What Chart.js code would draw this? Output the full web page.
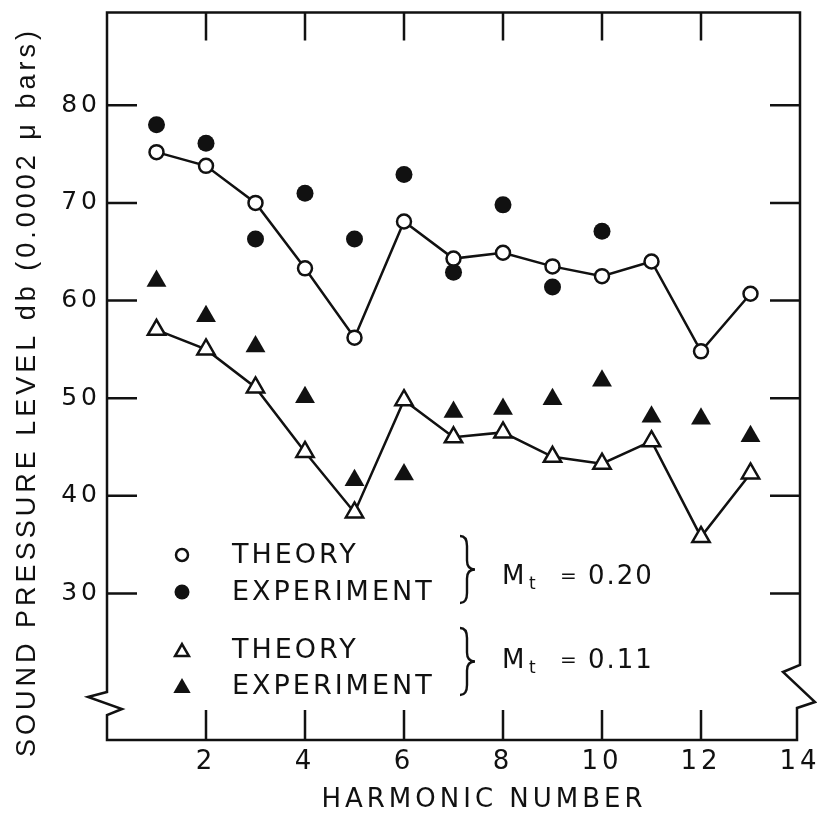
<!DOCTYPE html>
<html>
<head>
<meta charset="utf-8">
<script src="https://cdn.jsdelivr.net/npm/chart.js@4.4.1/dist/chart.umd.min.js"></script>
<style>
  html, body { margin: 0; padding: 0; background: #ffffff; }
  #c { display: block; }
</style>
</head>
<body>
<canvas id="c" width="817" height="821"></canvas>
<script>
// ---- data ----
const harmonics = [1, 2, 3, 4, 5, 6, 7, 8, 9, 10, 11, 12, 13];
const harmonicsExp020 = [1, 2, 3, 4, 5, 6, 7, 8, 9, 10];
const theory020 = [75.2, 73.8, 70.0, 63.3, 56.2, 68.1, 64.3, 64.9, 63.5, 62.5, 64.0, 54.8, 60.7];
const experiment020 = [78.0, 76.1, 66.3, 71.0, 66.3, 72.9, 62.9, 69.8, 61.4, 67.1];
const theory011 = [57.0, 55.0, 51.1, 44.5, 38.3, 49.8, 46.0, 46.5, 44.0, 43.3, 45.6, 35.8, 42.3];
const experiment011 = [62.0, 58.4, 55.3, 50.1, 41.6, 42.2, 48.6, 48.9, 49.9, 51.8, 48.1, 47.9, 46.1];

const xTickValues = [2, 4, 6, 8, 10, 12, 14];
const yTickValues = [30, 40, 50, 60, 70, 80];
const xTitle = 'HARMONIC NUMBER';
const yTitle = 'SOUND PRESSURE LEVEL db (0.0002 \u03bc bars)';
const legendTheory = 'THEORY';
const legendExperiment = 'EXPERIMENT';
const machSymbol = 'M';
const machSub = 't';
const machValues = ['0.20', '0.11'];

const toXY = (xs, ys) => ys.map((y, i) => ({ x: xs[i], y: y }));

const INK = '#111111';

const framePlugin = {
  id: 'framePlugin',
  beforeDraw(chart) {
    chart.ctx.letterSpacing = '4px';
  },
  afterDraw(chart) {
    const ctx = chart.ctx;
    const ca = chart.chartArea;
    const L = ca.left, R = ca.right, T = ca.top, B = ca.bottom;
    const xs = chart.scales.x, ys = chart.scales.y;
    ctx.save();
    ctx.strokeStyle = INK;
    ctx.fillStyle = INK;
    ctx.lineWidth = 2.5;
    ctx.lineJoin = 'miter';
    // frame with axis breaks
    ctx.beginPath();
    ctx.moveTo(L, T);
    ctx.lineTo(L, B - 48);
    ctx.lineTo(L - 19, B - 43);
    ctx.lineTo(L + 15, B - 31);
    ctx.lineTo(L, B - 25);
    ctx.lineTo(L, B);
    ctx.lineTo(R - 3, B);
    ctx.lineTo(R - 3, B - 32);
    ctx.lineTo(R + 15, B - 38);
    ctx.lineTo(R - 17, B - 68);
    ctx.lineTo(R, B - 75);
    ctx.lineTo(R, T);
    ctx.closePath();
    ctx.stroke();
    // inward ticks
    ctx.beginPath();
    xTickValues.forEach(v => {
      if (v >= xs.max) return;
      const px = xs.getPixelForValue(v);
      ctx.moveTo(px, T); ctx.lineTo(px, T + 28);
      ctx.moveTo(px, B); ctx.lineTo(px, B - 30);
    });
    yTickValues.forEach(v => {
      const py = ys.getPixelForValue(v);
      ctx.moveTo(L, py); ctx.lineTo(L + 30, py);
      ctx.moveTo(R, py); ctx.lineTo(R - 30, py);
    });
    ctx.stroke();

    // axis titles
    ctx.textBaseline = 'middle';
    ctx.textAlign = 'center';
    ctx.letterSpacing = '4px';
    ctx.font = '26px "DejaVu Sans"';
    ctx.fillText(xTitle, 484, 800);
    ctx.save();
    ctx.translate(28, 392);
    ctx.rotate(-Math.PI / 2);
    ctx.font = '27px "Liberation Sans"';
    ctx.letterSpacing = '4px';
    ctx.fillText(yTitle, 0, 0);
    ctx.restore();

    // legend glyphs
    const mx = 182;
    ctx.lineWidth = 2.5;
    ctx.beginPath(); ctx.arc(mx, 555, 6, 0, Math.PI * 2);
    ctx.fillStyle = '#fff'; ctx.fill(); ctx.stroke();
    ctx.fillStyle = INK;
    ctx.beginPath(); ctx.arc(mx, 592, 7.5, 0, Math.PI * 2); ctx.fill();
    const tri = (cx, cy, r, filled) => {
      ctx.beginPath();
      ctx.moveTo(cx, cy - r);
      ctx.lineTo(cx + r * 0.866, cy + r * 0.5);
      ctx.lineTo(cx - r * 0.866, cy + r * 0.5);
      ctx.closePath();
      if (filled) ctx.fill(); else ctx.stroke();
    };
    tri(mx, 652, 8, false);
    tri(mx, 688, 10, true);

    // legend text
    ctx.textAlign = 'left';
    ctx.font = '27px "DejaVu Sans"';
    ctx.letterSpacing = '3px';
    ctx.fillText(legendTheory, 232, 556);
    ctx.fillText(legendExperiment, 232, 593);
    ctx.fillText(legendTheory, 232, 651);
    ctx.fillText(legendExperiment, 232, 687);

    // braces
    const brace = (x0, y0, y1) => {
      const ym = (y0 + y1) / 2;
      const xb = x0 + 7, xp = x0 + 15;
      ctx.beginPath();
      ctx.moveTo(x0, y0);
      ctx.quadraticCurveTo(xb, y0, xb, y0 + 10);
      ctx.lineTo(xb, ym - 9);
      ctx.quadraticCurveTo(xb, ym, xp, ym);
      ctx.quadraticCurveTo(xb, ym, xb, ym + 9);
      ctx.lineTo(xb, y1 - 10);
      ctx.quadraticCurveTo(xb, y1, x0, y1);
      ctx.stroke();
    };
    ctx.lineWidth = 2.4;
    brace(460, 536, 603);
    brace(460, 628, 695);

    // Mach labels
    const machY = [577, 661];
    machValues.forEach((val, i) => {
      const y = machY[i];
      ctx.letterSpacing = '0px';
      ctx.font = '26px "DejaVu Sans"';
      ctx.fillText(machSymbol, 502, y);
      ctx.font = '17px "DejaVu Sans"';
      ctx.fillText(machSub, 529, y + 8);
      ctx.font = '20px "DejaVu Sans"';
      ctx.fillText('=', 560, y);
      ctx.letterSpacing = '2px';
      ctx.font = '26px "DejaVu Sans"';
      ctx.fillText(val, 588, y);
    });
    ctx.restore();
  }
};

new Chart(document.getElementById('c'), {
  type: 'scatter',
  data: {
    datasets: [
      {
        label: 'Theory Mt = 0.20',
        data: toXY(harmonics, theory020),
        showLine: true,
        borderColor: INK,
        borderWidth: 2.5,
        pointStyle: 'circle',
        pointRadius: 7,
        pointBackgroundColor: '#ffffff',
        pointBorderColor: INK,
        pointBorderWidth: 2.5
      },
      {
        label: 'Theory Mt = 0.11',
        data: toXY(harmonics, theory011),
        showLine: true,
        borderColor: INK,
        borderWidth: 2.5,
        pointStyle: 'triangle',
        pointRadius: 10,
        pointBackgroundColor: '#ffffff',
        pointBorderColor: INK,
        pointBorderWidth: 2.5
      },
      {
        label: 'Experiment Mt = 0.20',
        data: toXY(harmonicsExp020, experiment020),
        showLine: false,
        pointStyle: 'circle',
        pointRadius: 8.5,
        pointBackgroundColor: INK,
        pointBorderColor: INK,
        pointBorderWidth: 0
      },
      {
        label: 'Experiment Mt = 0.11',
        data: toXY(harmonics, experiment011),
        showLine: false,
        pointStyle: 'triangle',
        pointRadius: 11.5,
        pointBackgroundColor: INK,
        pointBorderColor: INK,
        pointBorderWidth: 0
      }
    ]
  },
  options: {
    responsive: false,
    animation: false,
    devicePixelRatio: 1,
    layout: { padding: { top: 10, right: 17, left: 0, bottom: 0 } },
    plugins: { legend: { display: false }, tooltip: { enabled: false } },
    scales: {
      x: {
        type: 'linear',
        min: 0,
        max: 14,
        afterBuildTicks: s => { s.ticks = xTickValues.map(v => ({ value: v })); },
        afterFit: s => { s.height = 81; s.paddingLeft = 0; s.paddingRight = 0; },
        grid: { display: false, drawTicks: false },
        border: { display: false },
        ticks: {
          autoSkip: false, maxRotation: 0, padding: 7, color: INK,
          font: { family: 'DejaVu Sans', size: 26 }
        }
      },
      y: {
        type: 'linear',
        min: 15,
        max: 89.5,
        afterBuildTicks: s => { s.ticks = yTickValues.map(v => ({ value: v })); },
        afterFit: s => { s.width = 107; s.paddingTop = 0; s.paddingBottom = 0; },
        grid: { display: false, drawTicks: false },
        border: { display: false },
        ticks: {
          padding: 6, color: INK,
          font: { family: 'DejaVu Sans', size: 25 }
        }
      }
    }
  },
  plugins: [framePlugin]
});
</script>
</body>
</html>
